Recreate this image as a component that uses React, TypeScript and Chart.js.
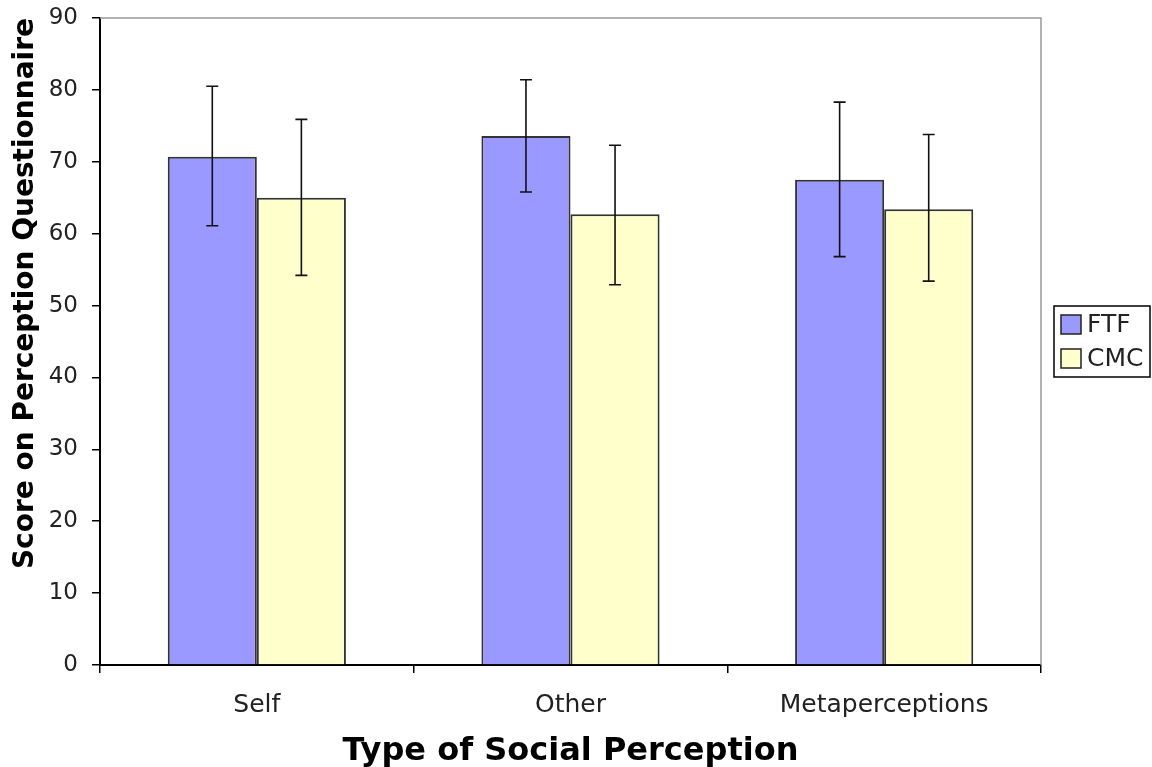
import React, { useEffect, useRef } from "react";
import { Chart, registerables } from "chart.js";

Chart.register(...registerables);

const categories = ["Self", "Other", "Metaperceptions"];
const seriesNames = ["FTF", "CMC"];
const ftfValues = [70.7, 73.6, 67.5];
const cmcValues = [65.0, 62.7, 63.4];
const ftfErrLow = [61.1, 65.8, 56.8];
const ftfErrHigh = [80.5, 81.4, 78.3];
const cmcErrLow = [54.2, 52.9, 53.4];
const cmcErrHigh = [75.9, 72.3, 73.8];
const yTicks = [0, 10, 20, 30, 40, 50, 60, 70, 80, 90];

const colors = ["#9999FF", "#FFFFCC"];
const FONT = "'DejaVu Sans', Verdana, sans-serif";

const errorBarPlugin = {
  id: "errorBars",
  afterDatasetsDraw(chart: any) {
    const ctx = chart.ctx;
    const yScale = chart.scales.y;
    const lows = [ftfErrLow, cmcErrLow];
    const highs = [ftfErrHigh, cmcErrHigh];
    ctx.save();
    ctx.strokeStyle = "#111";
    ctx.lineWidth = 1.6;
    chart.data.datasets.forEach((_: any, di: number) => {
      const meta = chart.getDatasetMeta(di);
      meta.data.forEach((bar: any, i: number) => {
        const x = bar.x;
        const yl = yScale.getPixelForValue(lows[di][i]);
        const yh = yScale.getPixelForValue(highs[di][i]);
        ctx.beginPath();
        ctx.moveTo(x, yl);
        ctx.lineTo(x, yh);
        ctx.moveTo(x - 6, yl);
        ctx.lineTo(x + 6, yl);
        ctx.moveTo(x - 6, yh);
        ctx.lineTo(x + 6, yh);
        ctx.stroke();
      });
    });
    ctx.restore();
  },
};

const framePlugin = {
  id: "frameAndLegend",
  beforeDatasetsDraw(chart: any) {
    const { ctx, chartArea } = chart;
    ctx.save();
    ctx.strokeStyle = "#999";
    ctx.lineWidth = 1.5;
    ctx.beginPath();
    ctx.moveTo(chartArea.left, chartArea.top);
    ctx.lineTo(chartArea.right, chartArea.top);
    ctx.lineTo(chartArea.right, chartArea.bottom);
    ctx.stroke();
    ctx.restore();
  },
  afterDraw(chart: any) {
    const { ctx } = chart;
    ctx.save();
    const bx = 1054, by = 306, bw = 96, bh = 71;
    ctx.strokeStyle = "#000";
    ctx.lineWidth = 1.5;
    ctx.strokeRect(bx, by, bw, bh);
    seriesNames.forEach((name, i) => {
      const sy = by + 9 + i * 34;
      ctx.fillStyle = colors[i];
      ctx.fillRect(bx + 7, sy, 20, 19);
      ctx.strokeStyle = "#222";
      ctx.lineWidth = 1.5;
      ctx.strokeRect(bx + 7, sy, 20, 19);
      ctx.fillStyle = "#222";
      ctx.font = `25px ${FONT}`;
      ctx.textBaseline = "middle";
      ctx.textAlign = "left";
      ctx.fillText(name, bx + 33, sy + 10);
    });
    ctx.restore();
  },
};

export default function App() {
  const ref = useRef<HTMLCanvasElement>(null);
  useEffect(() => {
    document.body.style.margin = "0";
    const chart = new Chart(ref.current!, {
      type: "bar",
      data: {
        labels: categories,
        datasets: [
          {
            label: seriesNames[0],
            data: ftfValues,
            backgroundColor: colors[0],
            borderColor: "#333",
            borderWidth: 2,
          },
          {
            label: seriesNames[1],
            data: cmcValues,
            backgroundColor: colors[1],
            borderColor: "#333",
            borderWidth: 2,
          },
        ],
      },
      options: {
        animation: false,
        responsive: false,
        maintainAspectRatio: false,
        layout: { padding: { top: 18, right: 111, left: 0, bottom: 0 } },
        datasets: { bar: { categoryPercentage: 0.568, barPercentage: 1 } },
        plugins: {
          legend: { display: false },
          tooltip: { enabled: false },
        },
        scales: {
          x: {
            grid: {
              display: true,
              offset: true,
              drawOnChartArea: false,
              drawTicks: true,
              tickLength: 8,
              color: "#000",
              lineWidth: 1.5,
            },
            border: { display: true, color: "#000", width: 2 },
            ticks: {
              color: "#222",
              font: { family: FONT, size: 25 },
              padding: 17,
            },
            title: {
              display: true,
              text: "Type of Social Perception",
              color: "#000",
              font: { family: FONT, size: 32, weight: "bold" },
              padding: { top: 0, bottom: -4 },
            },
            afterFit(scale: any) {
              scale.height = 102;
              scale.paddingLeft = 0;
              scale.paddingRight = 0;
            },
          },
          y: {
            min: 0,
            max: 90,
            afterBuildTicks(scale: any) {
              scale.ticks = yTicks.map((v) => ({ value: v }));
            },
            grid: {
              display: true,
              drawOnChartArea: false,
              drawTicks: true,
              tickLength: 8,
              color: "#000",
              lineWidth: 1.5,
            },
            border: { display: true, color: "#000", width: 2 },
            ticks: {
              color: "#222",
              font: { family: FONT, size: 23 },
              padding: 14,
            },
            title: {
              display: true,
              text: "Score on Perception Questionnaire",
              align: "end",
              color: "#000",
              font: { family: FONT, size: 28, weight: "bold" },
              padding: { top: 9, bottom: 0 },
            },
            afterFit(scale: any) {
              scale.width = 100;
              scale.paddingTop = 0;
              scale.paddingBottom = 0;
            },
          },
        },
      },
      plugins: [framePlugin, errorBarPlugin],
    });
    return () => chart.destroy();
  }, []);
  return (
    <div style={{ width: 1152, height: 767 }}>
      <canvas ref={ref} width={1152} height={767} style={{ display: "block" }} />
    </div>
  );
}
